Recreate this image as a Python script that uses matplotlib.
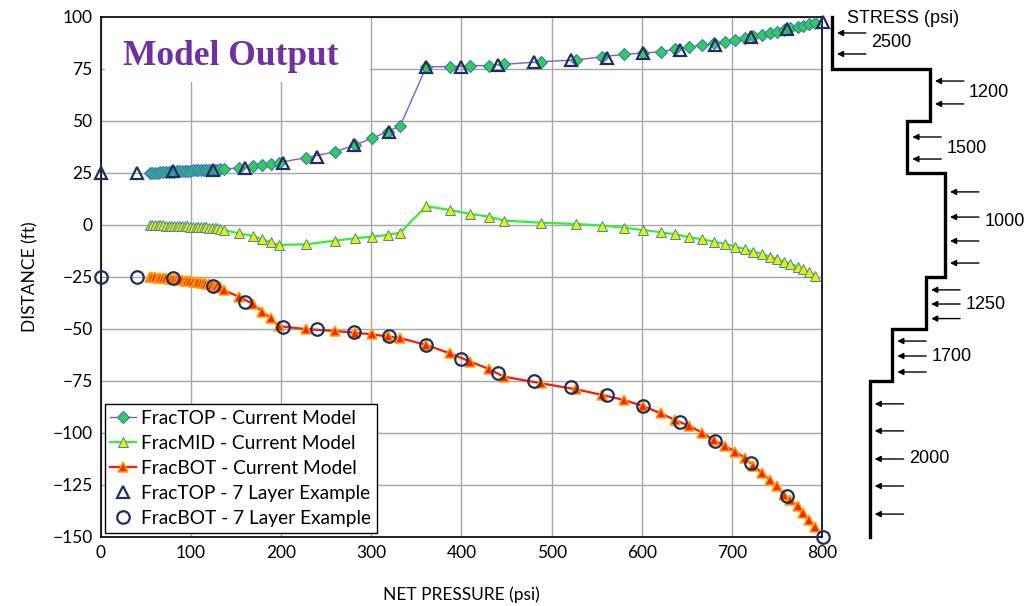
from matplotlib import pyplot as plt
from matplotlib.patches import Rectangle

# net pressure steps of the current model (psi)
press = [54, 57, 60, 63, 66, 69, 72, 75, 78, 81, 84, 87, 90, 93, 96, 99, 102, 105, 108, 111,
         114, 117, 120, 123, 126, 129, 132,
         136, 153, 169, 179, 189, 197, 228, 260, 282, 301, 318, 332,
         361, 387, 410, 430, 447, 488, 527, 556, 580, 601, 621, 637, 653, 667, 680, 692,
         704, 715, 724, 733, 742, 750, 758, 765, 773, 779, 786, 792]

frac_top = [25.0, 25.1, 25.2, 25.2, 25.3, 25.4, 25.5, 25.5, 25.6, 25.7, 25.8, 25.8, 25.9, 26.0,
            26.0, 26.1, 26.2, 26.2, 26.3, 26.3, 26.4, 26.4, 26.5, 26.5, 26.6, 26.6, 26.7,
            26.8, 27.5, 28.3, 28.8, 29.3, 30.0, 32.4, 35.2, 38.5, 41.7, 44.9, 47.6,
            76.1, 76.1, 76.6, 76.6, 77.2, 78.5, 79.3, 80.9, 82.0, 82.6, 83.3, 84.5, 85.5, 86.4,
            87.3, 87.9, 88.9, 89.7, 90.8, 91.3, 92.1, 92.9, 93.7, 94.5, 95.3, 95.8, 96.6, 97.0]

frac_mid = [0.0, 0.0, -0.1, -0.1, -0.2, -0.2, -0.3, -0.3, -0.4, -0.4, -0.5, -0.5, -0.6, -0.6,
            -0.7, -0.8, -0.8, -0.9, -1.0, -1.0, -1.1, -1.2, -1.3, -1.4, -1.5, -1.6, -1.8,
            -2.4, -4.0, -5.3, -6.9, -8.3, -9.6, -9.3, -7.5, -6.4, -5.6, -4.8, -3.7,
            9.1, 7.2, 5.3, 4.0, 2.1, 1.1, 0.5, -0.3, -1.3, -2.4, -3.5, -4.5, -5.9, -6.9,
            -8.0, -9.1, -10.4, -11.7, -12.8, -13.9, -15.2, -16.5, -17.6, -18.7, -20.0, -21.3,
            -22.7, -24.3]

frac_bot = [-25.0, -25.1, -25.2, -25.3, -25.4, -25.5, -25.6, -25.8, -25.9, -26.0, -26.2, -26.3,
            -26.5, -26.7, -26.8, -27.0, -27.2, -27.4, -27.6, -27.8, -28.0, -28.3, -28.5, -28.8,
            -29.1, -29.5, -30.0,
            -31.3, -34.5, -38.0, -41.7, -44.9, -48.6, -50.1, -51.0, -51.8, -52.6, -53.6, -54.4,
            -57.7, -61.7, -65.7, -69.2, -72.9, -76.1, -79.0, -81.7, -84.1, -87.0, -90.5, -93.8,
            -96.6, -99.9, -103.4, -106.1, -109.0, -112.2, -115.7, -119.1, -122.6, -125.5, -129.8,
            -132.2, -135.1, -138.3, -141.8, -145.3]

# 7 layer example
press7 = [0, 40, 80, 124, 160, 202, 240, 281, 320, 361, 400, 441, 481, 521, 561, 601, 642, 681,
          721, 761, 801]
top7 = [25, 25, 26, 26.5, 27.3, 29.7, 32.8, 38.5, 44.9, 75.8, 75.8, 76.9, 78.5, 79.2, 80.4,
        82.5, 84.3, 86.5, 90.2, 94, 97.7]
bot7 = [-25, -25, -25.6, -29.3, -36.9, -49.2, -50, -51.3, -53.4, -57.7, -64.5, -71, -74.8, -78,
        -81.7, -86.8, -94.6, -103.7, -114.6, -130.5, -149.8]

# stress layers: top, bottom (ft), stress (psi), depths of the load arrows
layer_top = [100, 75, 50, 25, -25, -50, -75]
layer_bot = [75, 50, 25, -25, -50, -75, -150]
layer_stress = [2500, 1200, 1500, 1000, 1250, 1700, 2000]
layer_label_y = [87.5, 63.5, 37, 1.5, -38, -63, -112.5]
layer_arrows = [[92.3, 82.2], [69.2, 58.2], [42.3, 31.7], [15.9, 3.8, -7.7, -18.3],
                [-31.2, -38, -45], [-55.8, -63, -70.7], [-86, -99, -112.5, -125.5, -139]]

plt.rcParams['font.family'] = ['Lato', 'DejaVu Sans']

fig = plt.figure(figsize=(10.28, 6.06), dpi=100)
ax = fig.add_axes([0.0982, 0.1139, 0.7014, 0.8581])

ax.plot(press, frac_top, color='#7b5cd6', lw=1.0, marker='D', ms=6, mfc='#2fcf4f',
        mec='#3a74d0', mew=0.8, label='FracTOP - Current Model', zorder=3, clip_on=False)
ax.plot(press, frac_mid, color='#33ee33', lw=1.6, marker='^', ms=7.5, mfc='#e8f000',
        mec='#3f86b0', mew=0.7, label='FracMID - Current Model', zorder=3, clip_on=False)
ax.plot(press, frac_bot, color='#ff1a00', lw=1.6, marker='^', ms=7.5, mfc='#ff2200',
        mec='#ffa000', mew=1.1, label='FracBOT - Current Model', zorder=3, clip_on=False)
ax.plot(press7, top7, ls='none', marker='^', ms=8, mfc='none', mec='#1f3060', mew=1.6,
        label='FracTOP - 7 Layer Example', zorder=4, clip_on=False)
ax.plot(press7, bot7, ls='none', marker='o', ms=9, mfc='none', mec='#1f3060', mew=1.6,
        label='FracBOT - 7 Layer Example', zorder=4, clip_on=False)

ax.set_xlim(0, 800)
ax.set_ylim(-150, 100)
ax.set_xticks(range(0, 801, 100))
ax.set_yticks(range(-150, 101, 25))
ax.grid(True, color='#a6a6a6', lw=1.0)
ax.set_axisbelow(True)
ax.tick_params(length=0, labelsize=12.5, pad=6)
for s in ax.spines.values():
    s.set_color('black')
    s.set_linewidth(1.2)
ax.set_xlabel('NET PRESSURE (psi)', fontsize=12.5, labelpad=18)
ax.set_ylabel('DISTANCE (ft)', fontsize=12.5, labelpad=10)

# white box behind the title so the grid does not show through
ax.add_patch(Rectangle((4.5, 68.8), 294, 31.2, facecolor='white', edgecolor='none', zorder=1.5))
ax.text(24, 77, 'Model Output', fontsize=25.5, fontweight='bold', color='#7030a0',
        family=['Liberation Serif', 'DejaVu Serif'], zorder=2)

leg = ax.legend(loc='lower left', bbox_to_anchor=(0.005, 0.008), borderaxespad=0,
                fontsize=13.8, handlelength=1.35, handletextpad=0.25, labelspacing=0.42,
                borderpad=0.3, fancybox=False, framealpha=1, edgecolor='black')
leg.get_frame().set_linewidth(1.0)
leg.set_zorder(5)

# stress profile beside the plot
ax2 = fig.add_axes([0.7996, 0.1139, 0.2004, 0.8581])
ax2.set_xlim(2633, -102)
ax2.set_ylim(-150, 100)
ax2.axis('off')

xs = []
ys = []
for i in range(len(layer_stress)):
    xs += [layer_stress[i], layer_stress[i]]
    ys += [layer_top[i], layer_bot[i]]
ax2.plot(xs, ys, color='black', lw=2.4, clip_on=False, solid_joinstyle='miter')

for i in range(len(layer_stress)):
    s = layer_stress[i]
    for d in layer_arrows[i]:
        ax2.annotate('', xy=(s - 66, d), xytext=(s - 450, d),
                     arrowprops=dict(arrowstyle='-|>', color='black', lw=1.0,
                                     mutation_scale=9, shrinkA=0, shrinkB=0),
                     annotation_clip=False)
    ax2.text(s - 520, layer_label_y[i], str(s), fontsize=13, va='center', ha='left',
             family=['Liberation Sans', 'DejaVu Sans'])

ax2.text(2300, 99.5, 'STRESS (psi)', fontsize=13, va='center', ha='left',
         family=['Liberation Sans', 'DejaVu Sans'])

fig.savefig('out.png', dpi=100)
